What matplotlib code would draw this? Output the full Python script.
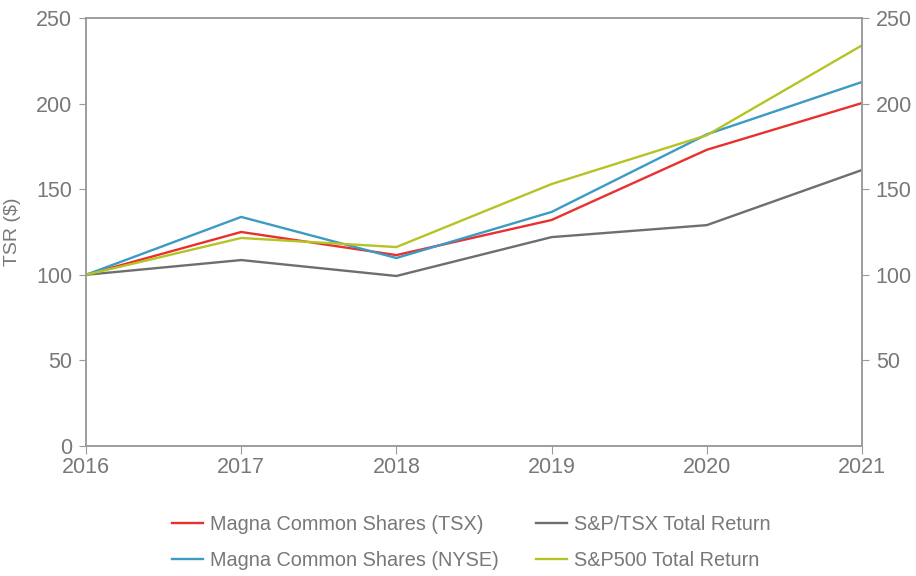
import matplotlib
matplotlib.use('Agg')
import matplotlib.pyplot as plt

plt.rcParams['font.family'] = ['Liberation Sans', 'DejaVu Sans']

# data
years = [2016, 2017, 2018, 2019, 2020, 2021]
magna_tsx = [100, 125, 111.5, 132, 173, 200.3]
magna_nyse = [100, 133.8, 109.8, 136.7, 182, 212.6]
sp_tsx = [100, 108.6, 99.3, 122, 129, 161.2]
sp500 = [100, 121.5, 116.2, 153, 181.5, 234]

grey = '#77787b'

fig = plt.figure(figsize=(9.16, 5.76), dpi=100)
ax = fig.add_axes([0.0939, 0.2257, 0.8471, 0.7431])

l1, = ax.plot(years, magna_tsx, color='#e8312f', lw=1.7, label='Magna Common Shares (TSX)')
l2, = ax.plot(years, magna_nyse, color='#3b9bc3', lw=1.7, label='Magna Common Shares (NYSE)')
l3, = ax.plot(years, sp_tsx, color='#6d6e70', lw=1.7, label='S&P/TSX Total Return')
l4, = ax.plot(years, sp500, color='#b5c424', lw=1.7, label='S&P500 Total Return')

ax.set_xlim(2016, 2021)
ax.set_ylim(0, 250)
ax.set_xticks(years)
ax.set_yticks([0, 50, 100, 150, 200, 250])
ax.set_ylabel('TSR ($)', color=grey, fontsize=14, labelpad=11)

for s in ax.spines.values():
    s.set_color('#9a9a9c')
    s.set_linewidth(1.1)

ax.tick_params(axis='y', colors='#9a9a9c', labelcolor=grey, labelsize=15.5, length=5, pad=5)
ax.tick_params(axis='x', colors='#9a9a9c', labelcolor=grey, labelsize=15.5, length=6, pad=2)

ax2 = ax.twinx()
ax2.set_ylim(0, 250)
ax2.set_yticks([50, 100, 150, 200, 250])
ax2.tick_params(axis='y', colors='#9a9a9c', labelcolor=grey, labelsize=15.5, length=5, pad=5)
for s in ax2.spines.values():
    s.set_color('#9a9a9c')
    s.set_linewidth(1.1)

leg = fig.legend(handles=[l1, l2, l3, l4], ncol=2, loc='upper left',
                 bbox_to_anchor=(0.1725, 0.13), frameon=False, fontsize=14.3,
                 handlelength=1.56, handletextpad=0.35, columnspacing=1.9,
                 labelspacing=0.85, borderpad=0.2)
for t in leg.get_texts():
    t.set_color(grey)

fig.savefig('out.png', dpi=100)
